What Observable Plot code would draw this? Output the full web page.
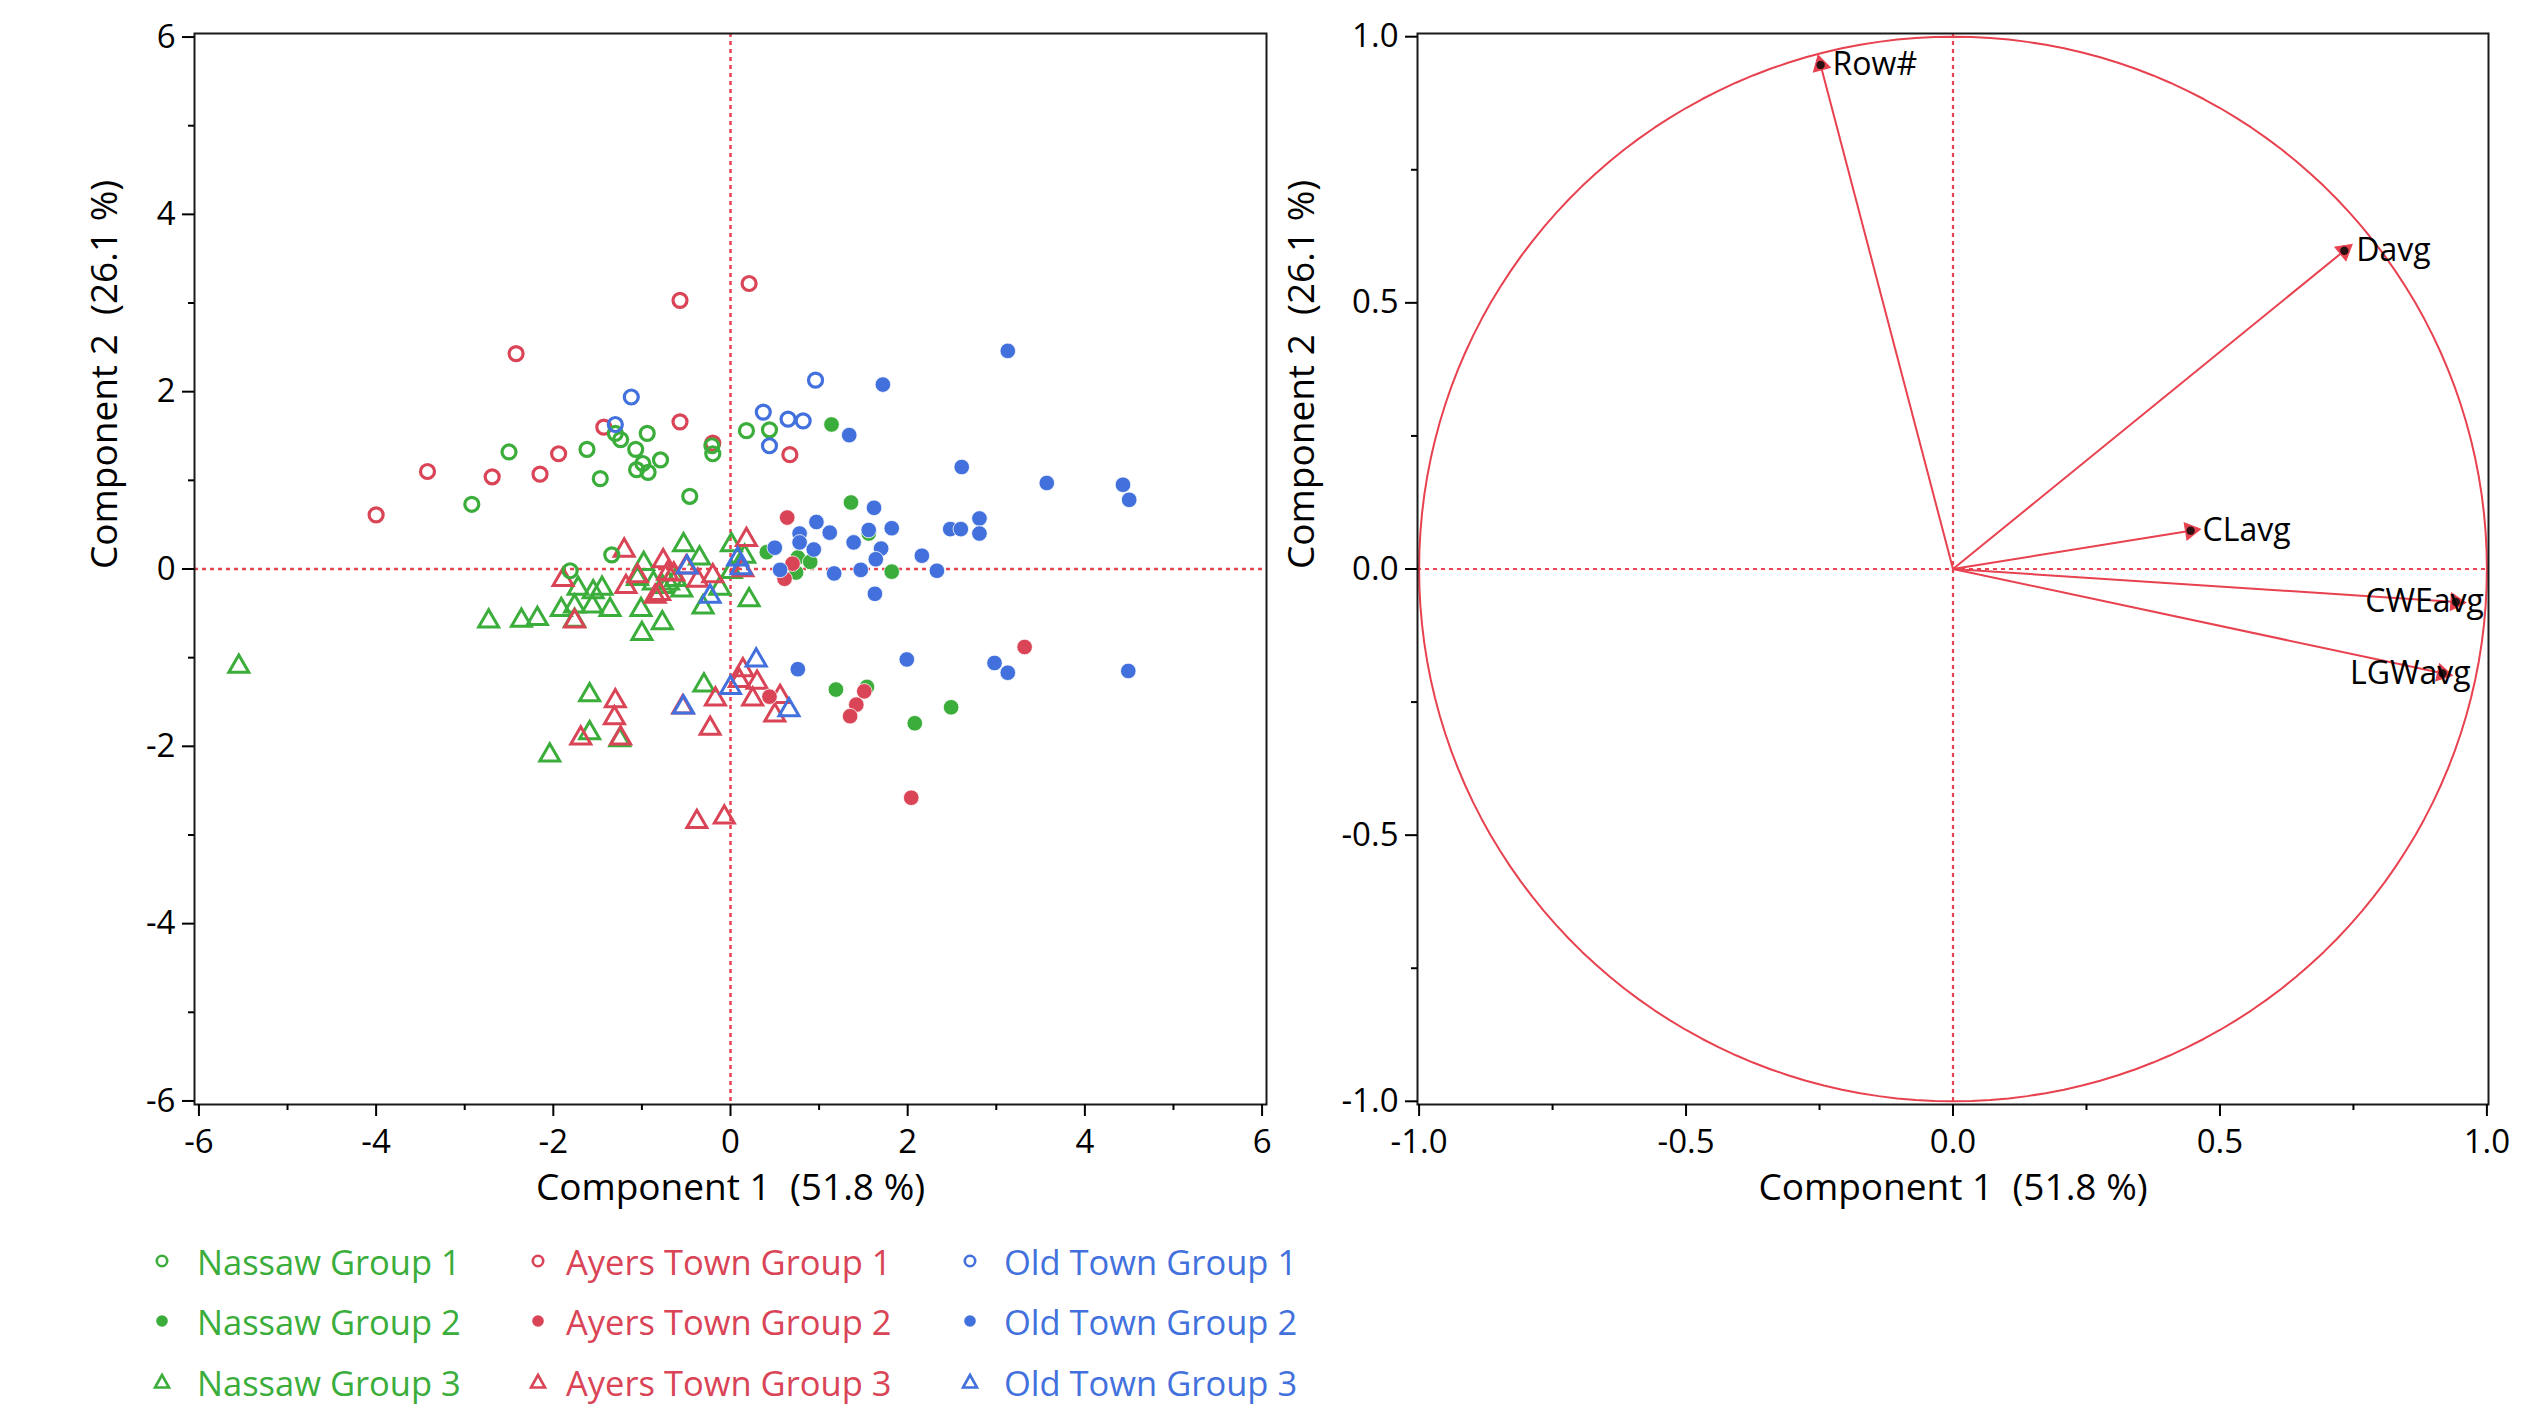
<!DOCTYPE html>
<html>
<head>
<meta charset="utf-8">
<script src="https://cdn.jsdelivr.net/npm/d3@7"></script>
<script src="https://cdn.jsdelivr.net/npm/@observablehq/plot@0.6"></script>
<style>
  body { margin: 0; background: #fff; }
  #wrap { position: relative; width: 2535px; height: 1411px; font-family: 'Open Sans', sans-serif; overflow: hidden; }
  #left { position: absolute; left: 0; top: 0; }
  #right { position: absolute; left: 1270px; top: 0; }
  .item { position: absolute; display: flex; align-items: center; height: 60px; font-size: 34.5px; white-space: nowrap; }
  .item svg { flex: none; }
</style>
</head>
<body>
<div id="wrap"><div id="left"></div><div id="right"></div><div id="legend"></div></div>
<script>
// ---------- Score plot data (Component 1, Component 2) ----------
const nassawG1 = [[-2.92,0.73],[-2.50,1.32],[-1.62,1.35],[-1.47,1.02],[-1.30,1.53],[-1.24,1.46],[-0.94,1.53],[-1.07,1.35],[-0.99,1.19],[-1.06,1.12],[-0.93,1.09],[-0.79,1.23],[-0.46,0.82],[-0.21,1.39],[-0.20,1.30],[0.18,1.56],[0.44,1.57],[-1.34,0.16],[-1.81,-0.02]];
const nassawG2 = [[1.14,1.63],[1.36,0.75],[1.56,0.40],[0.41,0.19],[0.76,0.13],[0.90,0.08],[0.74,-0.04],[1.82,-0.03],[1.19,-1.36],[1.54,-1.33],[2.49,-1.56],[2.08,-1.74]];
const nassawG3 = [[-5.55,-1.10],[-2.73,-0.59],[-2.36,-0.58],[-2.18,-0.56],[-1.91,-0.46],[-1.76,-0.42],[-1.76,-0.58],[-1.72,-0.22],[-1.56,-0.42],[-1.55,-0.26],[-1.45,-0.22],[-1.36,-0.46],[-1.01,-0.46],[-1.00,-0.73],[-0.77,-0.61],[-0.98,0.06],[-1.05,-0.11],[-0.87,-0.16],[-0.77,-0.20],[-0.70,-0.16],[-0.62,-0.12],[-0.53,0.27],[-0.35,0.12],[-0.55,-0.24],[-0.31,-0.43],[-0.12,-0.22],[0.01,0.27],[0.01,-0.03],[0.16,0.14],[0.21,-0.35],[-1.59,-1.42],[-0.30,-1.31],[-1.59,-1.85],[-1.25,-1.93],[-2.04,-2.10]];
const ayersG1 = [[-4.00,0.61],[-3.42,1.10],[-2.69,1.04],[-2.42,2.43],[-2.15,1.07],[-1.94,1.30],[-1.43,1.60],[-0.57,3.03],[-0.57,1.66],[-0.20,1.42],[0.21,3.22],[0.67,1.29]];
const ayersG2 = [[0.64,0.58],[0.70,0.06],[0.61,-0.11],[0.44,-1.44],[1.51,-1.38],[1.42,-1.53],[1.35,-1.66],[3.32,-0.88],[2.04,-2.58]];
const ayersG3 = [[-1.89,-0.12],[-1.76,-0.59],[-1.20,0.21],[-1.18,-0.20],[-1.05,-0.08],[-0.76,0.09],[-0.80,-0.28],[-0.71,-0.05],[-0.64,-0.06],[-0.50,0.02],[-0.37,-0.13],[-0.20,-0.08],[-0.85,-0.31],[0.18,0.33],[0.14,-0.01],[-1.30,-1.49],[-1.31,-1.68],[-1.69,-1.91],[-1.24,-1.91],[-0.54,-1.56],[-0.17,-1.47],[-0.23,-1.80],[-0.38,-2.85],[-0.07,-2.80],[0.14,-1.14],[0.10,-1.26],[0.30,-1.28],[0.25,-1.47],[0.50,-1.65],[0.56,-1.44]];
const oldTownG1 = [[-1.12,1.94],[-1.30,1.63],[0.96,2.13],[0.37,1.77],[0.65,1.69],[0.82,1.67],[0.44,1.39]];
const oldTownG2 = [[1.72,2.08],[1.34,1.51],[2.61,1.15],[1.62,0.69],[0.97,0.53],[0.78,0.40],[0.78,0.30],[1.12,0.41],[1.56,0.44],[1.82,0.46],[1.39,0.30],[0.94,0.22],[1.70,0.23],[1.64,0.11],[2.16,0.15],[0.50,0.24],[0.56,-0.01],[1.17,-0.05],[1.47,-0.01],[2.33,-0.02],[1.63,-0.28],[2.48,0.45],[2.60,0.45],[2.81,0.57],[2.81,0.40],[3.13,2.46],[3.57,0.97],[4.43,0.95],[4.50,0.78],[0.76,-1.13],[1.99,-1.02],[2.98,-1.06],[3.13,-1.17],[4.49,-1.15]];
const oldTownG3 = [[-0.49,0.02],[-0.23,-0.31],[0.08,0.11],[0.12,0.01],[-0.53,-1.56],[0.00,-1.34],[0.29,-1.03],[0.66,-1.59]];

// ---------- Loading plot data ----------
const loadingNames = ["Row#", "Davg", "CLavg", "CWEavg", "LGWavg"];
const loadingX = [-0.248, 0.733, 0.445, 0.942, 0.917];
const loadingY = [0.947, 0.598, 0.072, -0.062, -0.196];

// ---------- Axis ticks / labels ----------
const scoreMajor = [-6, -4, -2, 0, 2, 4, 6];
const scoreMinor = [-5, -3, -1, 1, 3, 5];
const loadMajor = [-1, -0.5, 0, 0.5, 1];
const loadMinor = [-0.75, -0.25, 0.25, 0.75];
const xTitle = "Component 1  (51.8 %)";
const yTitle = "Component 2  (26.1 %)";

const green = "#3aad3a", red = "#d94456", blue = "#4271dd";
const refRed = "#e8414f";

const groups = [
  {name: "Nassaw Group 1", data: nassawG1, color: green, kind: "open"},
  {name: "Nassaw Group 2", data: nassawG2, color: green, kind: "filled"},
  {name: "Nassaw Group 3", data: nassawG3, color: green, kind: "triangle"},
  {name: "Ayers Town Group 1", data: ayersG1, color: red, kind: "open"},
  {name: "Ayers Town Group 2", data: ayersG2, color: red, kind: "filled"},
  {name: "Ayers Town Group 3", data: ayersG3, color: red, kind: "triangle"},
  {name: "Old Town Group 1", data: oldTownG1, color: blue, kind: "open"},
  {name: "Old Town Group 2", data: oldTownG2, color: blue, kind: "filled"},
  {name: "Old Town Group 3", data: oldTownG3, color: blue, kind: "triangle"}
];

function markFor(g) {
  const rows = g.data.map(([x, y]) => ({x, y}));
  if (g.kind === "open") return Plot.dot(rows, {x: "x", y: "y", r: 7, stroke: g.color, strokeWidth: 3.2, fill: "none"});
  if (g.kind === "filled") return Plot.dot(rows, {x: "x", y: "y", r: 7.8, fill: g.color, stroke: "white", strokeWidth: 0.8});
  return Plot.dot(rows, {x: "x", y: "y", r: 7.4, symbol: "triangle", stroke: g.color, strokeWidth: 3, fill: "none"});
}
const drawOrder = [2, 5, 8, 3, 0, 6, 1, 4, 7];

const baseStyle = {fontFamily: "'Open Sans', sans-serif", fontSize: "33px", color: "#000", background: "transparent", overflow: "visible"};
const axisCommon = {strokeWidth: 2, fontSize: 33, label: null};

const left = Plot.plot({
  width: 1300, height: 1230,
  marginLeft: 194, marginRight: 34, marginTop: 33, marginBottom: 126,
  x: {domain: [-6.05, 6.05]},
  y: {domain: [-6.04, 6.04]},
  style: baseStyle,
  marks: [
    Plot.ruleX([0], {stroke: refRed, strokeWidth: 2.5, strokeDasharray: "4,4"}),
    Plot.ruleY([0], {stroke: refRed, strokeWidth: 2.5, strokeDasharray: "4,4"}),
    ...drawOrder.map(i => markFor(groups[i])),
    Plot.frame({stroke: "#1a1a1a", strokeWidth: 2}),
    Plot.axisX(scoreMajor, {...axisCommon, tickSize: 12, tickPadding: 13, tickFormat: d => String(d)}),
    Plot.axisX(scoreMinor, {...axisCommon, tickSize: 6, tickFormat: () => ""}),
    Plot.axisY(scoreMajor, {...axisCommon, tickSize: 12, tickPadding: 7, tickFormat: d => String(d)}),
    Plot.axisY(scoreMinor, {...axisCommon, tickSize: 6, tickFormat: () => ""}),
    Plot.text([xTitle], {text: d => d, frameAnchor: "bottom", dy: 84, fontSize: 37, lineAnchor: "middle"}),
    Plot.text([yTitle], {text: d => d, frameAnchor: "left", dx: -89, rotate: -90, fontSize: 37, lineAnchor: "middle"})
  ]
});
document.getElementById("left").appendChild(left);

const loadings = loadingNames.map((name, i) => ({name, x: loadingX[i], y: loadingY[i]}));
const circle = d3.range(0, 361, 2).map(a => ({x: Math.cos(a * Math.PI / 180), y: Math.sin(a * Math.PI / 180)}));
const headAngle = d => Math.atan2(d.x, d.y) * 180 / Math.PI;

const right = Plot.plot({
  width: 1265, height: 1230,
  marginLeft: 147, marginRight: 47, marginTop: 33, marginBottom: 126,
  x: {domain: [-1.003, 1.003]},
  y: {domain: [-1.006, 1.006]},
  style: baseStyle,
  marks: [
    Plot.ruleX([0], {stroke: refRed, strokeWidth: 2.2, strokeDasharray: "4,4"}),
    Plot.ruleY([0], {stroke: refRed, strokeWidth: 2.2, strokeDasharray: "4,4"}),
    Plot.line(circle, {x: "x", y: "y", stroke: refRed, strokeWidth: 2}),
    Plot.link(loadings, {x1: () => 0, y1: () => 0, x2: "x", y2: "y", stroke: refRed, strokeWidth: 2}),
    Plot.dot(loadings, {x: "x", y: "y", r: 6.5, symbol: "triangle", rotate: headAngle, fill: refRed, stroke: refRed, strokeWidth: 1}),
    Plot.dot(loadings, {x: "x", y: "y", r: 4.2, fill: "#2a1214"}),
    Plot.text(loadings.filter(d => d.x < 0.9), {x: "x", y: "y", text: "name", dx: 12, textAnchor: "start", fontSize: 32}),
    Plot.text(loadings.filter(d => d.x >= 0.9), {x: "x", y: "y", text: "name", dx: 28, textAnchor: "end", fontSize: 32}),
    Plot.frame({stroke: "#1a1a1a", strokeWidth: 2}),
    Plot.axisX(loadMajor, {...axisCommon, tickSize: 12, tickPadding: 13, tickFormat: d => d.toFixed(1)}),
    Plot.axisX(loadMinor, {...axisCommon, tickSize: 6, tickFormat: () => ""}),
    Plot.axisY(loadMajor, {...axisCommon, tickSize: 12, tickPadding: 7, tickFormat: d => d.toFixed(1)}),
    Plot.axisY(loadMinor, {...axisCommon, tickSize: 6, tickFormat: () => ""}),
    Plot.text([xTitle], {text: d => d, frameAnchor: "bottom", dy: 84, fontSize: 37, lineAnchor: "middle"}),
    Plot.text([yTitle], {text: d => d, frameAnchor: "left", dx: -115, rotate: -90, fontSize: 37, lineAnchor: "middle"})
  ]
});
document.getElementById("right").appendChild(right);

// ---------- Legend ----------
const markerCenters = [162, 538, 970];
const textStarts = [197, 566, 1004];
const rowCenters = [1261, 1321, 1382];
const wrap = document.getElementById("legend");
groups.forEach((g, i) => {
  const col = Math.floor(i / 3), row = i % 3;
  const item = document.createElement("div");
  item.className = "item";
  item.style.left = (markerCenters[col] - 10) + "px";
  item.style.top = (rowCenters[row] - 30) + "px";
  item.style.color = g.color;
  let shape;
  if (g.kind === "open") shape = `<circle cx="10" cy="10" r="5.2" fill="none" stroke="${g.color}" stroke-width="2.6"/>`;
  else if (g.kind === "filled") shape = `<circle cx="10" cy="10" r="5.8" fill="${g.color}"/>`;
  else shape = `<path d="M10,3 L17,15.5 L3,15.5 Z" fill="none" stroke="${g.color}" stroke-width="2.6" stroke-linejoin="miter"/>`;
  item.innerHTML = `<svg width="20" height="20" viewBox="0 0 20 20">${shape}</svg>` +
    `<span style="margin-left:${textStarts[col] - markerCenters[col] - 10}px">${g.name}</span>`;
  wrap.appendChild(item);
});
</script>
</body>
</html>
